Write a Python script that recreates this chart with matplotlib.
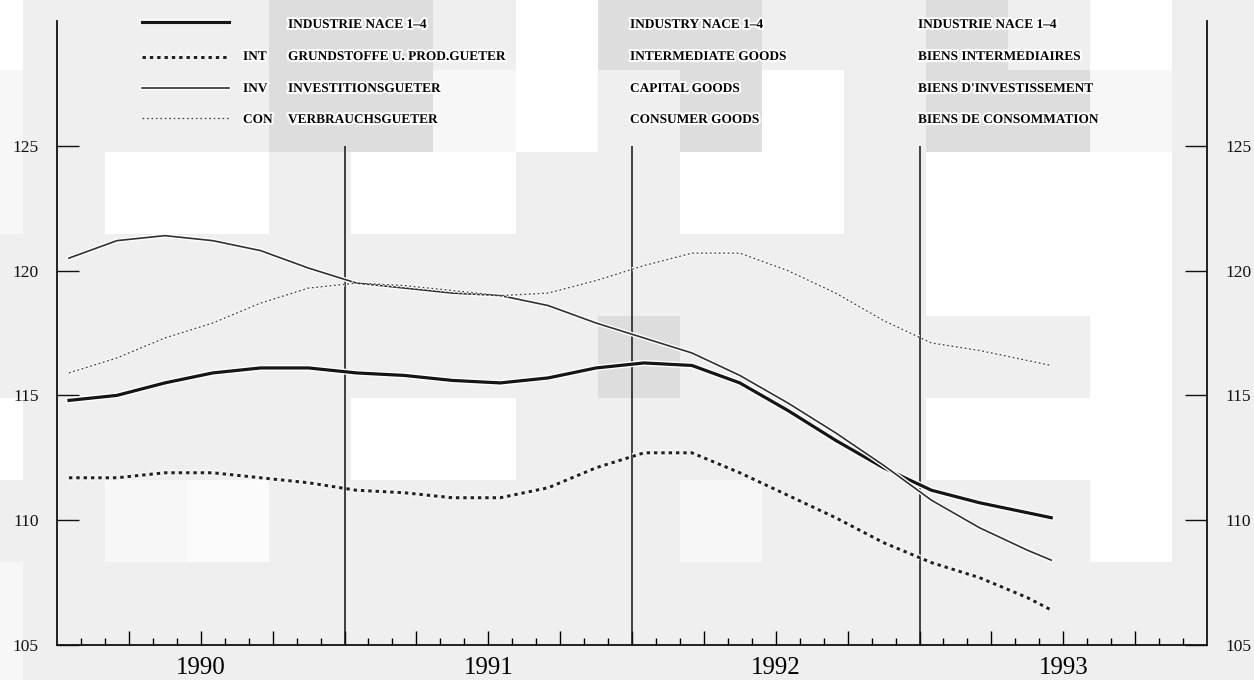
import matplotlib
matplotlib.use('Agg')
import matplotlib.pyplot as plt
import matplotlib.patheffects as pe
from matplotlib.lines import Line2D
import numpy as np

W, H = 1254, 680

# mois depuis janvier 1990 (milieu du mois)
mois = [0, 2, 4, 6, 8, 10, 12, 14, 16, 18, 20, 22, 24, 26, 28, 30, 32, 34, 36, 38, 40, 41]

industrie = [114.8, 115.0, 115.5, 115.9, 116.1, 116.1, 115.9, 115.8, 115.6, 115.5, 115.7, 116.1,
             116.3, 116.2, 115.5, 114.4, 113.2, 112.1, 111.2, 110.7, 110.3, 110.1]
intermed = [111.7, 111.7, 111.9, 111.9, 111.7, 111.5, 111.2, 111.1, 110.9, 110.9, 111.3, 112.1,
            112.7, 112.7, 111.9, 111.0, 110.1, 109.1, 108.3, 107.7, 106.9, 106.4]
invest = [120.5, 121.2, 121.4, 121.2, 120.8, 120.1, 119.5, 119.3, 119.1, 119.0, 118.6, 117.9,
          117.3, 116.7, 115.8, 114.7, 113.5, 112.2, 110.8, 109.7, 108.8, 108.4]
consom = [115.9, 116.5, 117.3, 117.9, 118.7, 119.3, 119.5, 119.4, 119.2, 119.0, 119.1, 119.6,
          120.2, 120.7, 120.7, 120.0, 119.1, 118.0, 117.1, 116.8, 116.4, 116.2]

annees = [1990, 1991, 1992, 1993]
yticks = [105, 110, 115, 120, 125]

codes = ['', 'INT', 'INV', 'CON']
textes_de = ['INDUSTRIE NACE 1\u20134', 'GRUNDSTOFFE U. PROD.GUETER', 'INVESTITIONSGUETER', 'VERBRAUCHSGUETER']
textes_en = ['INDUSTRY NACE 1\u20134', 'INTERMEDIATE GOODS', 'CAPITAL GOODS', 'CONSUMER GOODS']
textes_fr = ['INDUSTRIE NACE 1\u20134', 'BIENS INTERMEDIAIRES', "BIENS D'INVESTISSEMENT", 'BIENS DE CONSOMMATION']

# fond gris en blocs (comme le scan)
bord_x = [0, 23, 105, 187, 269, 351, 433, 516, 598, 680, 762, 844, 926, 1008, 1090, 1172, 1254]
bord_y = [0, 70, 152, 234, 316, 398, 480, 562, 644, 680]
L, D, B, S = 239, 221, 255, 247
fond = [
    [B, L, L, L, D, D, L, B, D, D, L, L, D, L, B, L],
    [S, L, L, L, D, D, S, B, L, D, B, L, D, D, S, L],
    [S, L, B, B, L, B, B, L, L, B, B, L, B, B, B, L],
    [L, L, L, L, L, L, L, L, L, L, L, L, B, B, B, L],
    [L, L, L, L, L, L, L, L, D, L, L, L, L, L, B, L],
    [B, L, L, L, L, B, B, L, L, L, L, L, B, B, B, L],
    [L, L, S, 251, L, L, L, L, L, S, L, L, L, L, B, L],
    [S, L, L, L, L, L, L, L, L, L, L, L, L, L, L, L],
    [S, L, L, L, L, L, L, L, L, L, L, L, L, L, L, L],
]

t = [1990 + (m + 0.5) / 12 for m in mois]

fig = plt.figure(figsize=(W / 100, H / 100), dpi=100)
bg = fig.add_axes([0, 0, 1, 1])
bg.pcolormesh(bord_x, bord_y, np.array(fond), cmap='gray', vmin=0, vmax=255, shading='flat')
bg.set_xlim(0, W)
bg.set_ylim(H, 0)
bg.axis('off')

ax = fig.add_axes([57 / W, 35 / H, 1150 / W, 624 / H])
ax.patch.set_alpha(0)
ax.set_xlim(1990, 1994)
ax.set_ylim(105, 130)

for s in ['left', 'right', 'bottom']:
    ax.spines[s].set_linewidth(1.3)
    ax.spines[s].set_color('#111111')
ax.spines['top'].set_visible(False)

serif = 'Liberation Serif'
ax.set_yticks(yticks)
ax.set_yticklabels([str(v) for v in yticks], family=serif, fontsize=12.5)
ax.tick_params(axis='y', direction='in', length=16, width=1, left=True, right=True,
               labelleft=True, labelright=True, pad=13, colors='#111111')

trimestres = [1990 + k / 4 for k in range(1, 16)]
mensuels = [1990 + k / 12 for k in range(1, 48) if k % 3 != 0]
ax.set_xticks(trimestres)
ax.set_xticklabels([])
ax.set_xticks(mensuels, minor=True)
ax.tick_params(axis='x', which='major', direction='in', length=10, width=1, top=False)
ax.tick_params(axis='x', which='minor', direction='in', length=5, width=1, top=False)

for a in annees[1:]:
    ax.vlines(a, 105, 125, color='#111111', lw=1.1)

for a in annees:
    ax.text(a + 0.5, -0.019, str(a), transform=ax.get_xaxis_transform(), ha='center', va='top',
            fontsize=18, family=serif)


def halo(lw):
    return [pe.Stroke(linewidth=lw + 2, foreground='white'), pe.Normal()]


styles = [
    dict(color='#151515', lw=2.3, ls='-'),
    dict(color='#202020', lw=2.2, ls=(0, (1.1, 1.3))),
    dict(color='#303030', lw=1.2, ls='-'),
    dict(color='#404040', lw=1.0, ls=(0, (1.2, 2.0))),
]
series = [industrie, intermed, invest, consom]

for serie, st in zip(series, styles):
    ax.plot(t, serie, color=st['color'], lw=st['lw'], ls=st['ls'], path_effects=halo(st['lw']), zorder=3)

# legende
lignes_y = [22, 57, 88, 118]
txt_y = [25, 57, 89, 120]
for i, st in enumerate(styles):
    yy = 1 - lignes_y[i] / H
    fig.add_artist(Line2D([142 / W, 229 / W], [yy, yy], transform=fig.transFigure, color=st['color'],
                          lw=st['lw'], ls=st['ls'], path_effects=halo(st['lw'])))
    ty = 1 - txt_y[i] / H
    props = dict(va='center', ha='left', fontsize=9.6, family=serif, weight='bold',
                 path_effects=[pe.withStroke(linewidth=3, foreground='white')])
    if codes[i]:
        fig.text(243 / W, ty, codes[i], **props)
    fig.text(288 / W, ty, textes_de[i], **props)
    fig.text(630 / W, ty, textes_en[i], **props)
    fig.text(918 / W, ty, textes_fr[i], **props)

fig.savefig('out.png', dpi=100)
